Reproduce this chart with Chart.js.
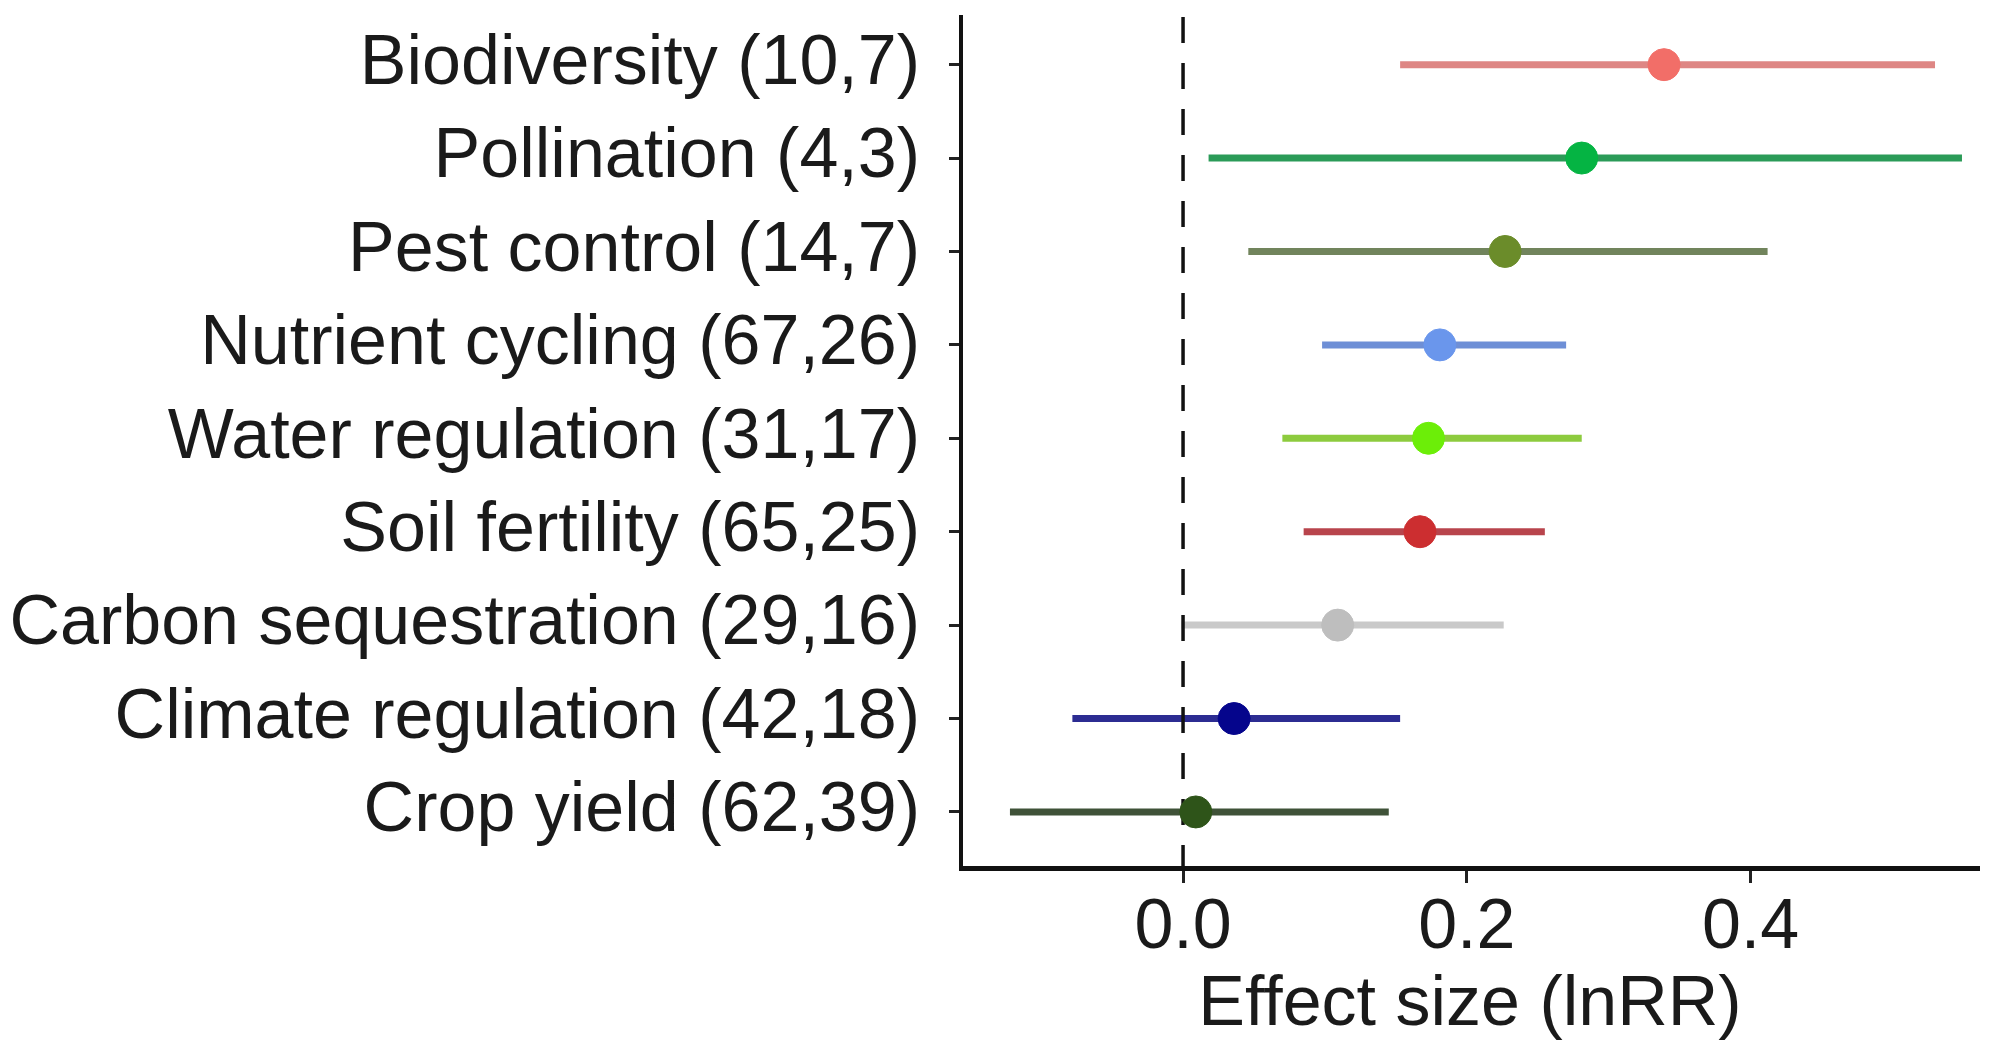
<!DOCTYPE html>
<html>
<head>
<meta charset="utf-8">
<script src="https://cdn.jsdelivr.net/npm/chart.js@4/dist/chart.umd.min.js"></script>
<style>
  html, body { margin: 0; padding: 0; background: #ffffff; overflow: hidden; }
  #wrap { width: 1996px; height: 1048px; overflow: hidden; }
  canvas { display: block; }
</style>
</head>
<body>
<div id="wrap"><canvas id="c" width="1996" height="1048" style="width:1996px;height:1048px"></canvas></div>
<script>
// ---- data ----
const categories = [
  "Biodiversity (10,7)",
  "Pollination (4,3)",
  "Pest control (14,7)",
  "Nutrient cycling (67,26)",
  "Water regulation (31,17)",
  "Soil fertility (65,25)",
  "Carbon sequestration (29,16)",
  "Climate regulation (42,18)",
  "Crop yield (62,39)"
];
const effect = [0.339, 0.281, 0.227, 0.181, 0.173, 0.167, 0.109, 0.036, 0.009];
const ciLow  = [0.153, 0.018, 0.046, 0.098, 0.070, 0.085, -0.001, -0.078, -0.122];
const ciHigh = [0.530, 0.549, 0.412, 0.270, 0.281, 0.255, 0.226, 0.153, 0.145];
const xTickValues = [0, 0.2, 0.4];
const xTickLabels = ["0.0", "0.2", "0.4"];
const xTitle = "Effect size (lnRR)";
const referenceX = 0;

// ---- styles / layout ----
const pointColors = ["#F26E68", "#05B443", "#6B8C2A", "#6A96EC", "#6CEE08", "#CC2E30", "#BEBEBE", "#05058C", "#2E5419"];
const lineColors  = ["#DE8684", "#2B9B58", "#71845C", "#6E8FD6", "#8DCB3E", "#B8444C", "#C9C9C9", "#2C2C92", "#3F5238"];
const FONT = "'Liberation Sans', Arial, Helvetica, sans-serif";
const Y_MIN = -0.51;
const Y_MAX = categories.length - 0.4;

const datasets = [];
// points
datasets.push({
  label: "effect",
  data: effect.map((v, i) => ({ x: v, y: i })),
  backgroundColor: pointColors,
  borderColor: pointColors,
  pointRadius: 16,
  pointHoverRadius: 16,
  showLine: false,
  order: 0
});
// reference dashed line
datasets.push({
  label: "zero",
  data: [{ x: referenceX, y: Y_MIN }, { x: referenceX, y: Y_MAX }],
  borderColor: "#111111",
  borderWidth: 3.5,
  borderDash: [26, 20],
  pointRadius: 0,
  showLine: true,
  order: 1
});
// confidence intervals
categories.forEach((c, i) => {
  datasets.push({
    label: c,
    data: [{ x: ciLow[i], y: i }, { x: ciHigh[i], y: i }],
    borderColor: lineColors[i],
    borderWidth: 7,
    borderCapStyle: "butt",
    pointRadius: 0,
    showLine: true,
    order: 2
  });
});

function noEdgePadding(s) {
  s._calculatePadding = function () {
    this.paddingLeft = 0; this.paddingRight = 0; this.paddingTop = 0; this.paddingBottom = 0;
  };
}

new Chart(document.getElementById("c"), {
  type: "scatter",
  data: { datasets },
  options: {
    responsive: false,
    animation: false,
    devicePixelRatio: 1,
    layout: { padding: { top: 2, right: 0, bottom: 0, left: 0 } },
    plugins: { legend: { display: false }, tooltip: { enabled: false } },
    scales: {
      x: {
        type: "linear",
        min: -0.1565,
        max: 0.561,
        beforeUpdate: noEdgePadding,
        afterBuildTicks: (s) => { s.ticks = xTickValues.map(v => ({ value: v })); },
        afterFit: (s) => { s.height = 1048 - 868; },
        ticks: {
          color: "#1a1a1a",
          font: { family: FONT, size: 70 },
          padding: 4,
          maxRotation: 0,
          callback: (v) => { const k = xTickValues.indexOf(v); return k >= 0 ? xTickLabels[k] : ""; }
        },
        grid: { drawOnChartArea: false, drawTicks: true, tickLength: 15, tickWidth: 3, tickColor: "#222222" },
        border: { display: true, color: "#111111", width: 5 },
        title: {
          display: true,
          text: xTitle,
          color: "#1a1a1a",
          font: { family: FONT, size: 70 },
          padding: { top: 0, bottom: 0 }
        }
      },
      y: {
        type: "linear",
        reverse: true,
        min: Y_MIN,
        max: Y_MAX,
        beforeUpdate: noEdgePadding,
        afterBuildTicks: (s) => { s.ticks = categories.map((c, i) => ({ value: i })); },
        afterFit: (s) => { s.width = 961; },
        ticks: {
          color: "#1a1a1a",
          font: { family: FONT, size: 70 },
          padding: 29,
          callback: (v) => categories[v] !== undefined ? categories[v] : ""
        },
        grid: { drawOnChartArea: false, drawTicks: true, tickLength: 12, tickWidth: 3, tickColor: "#222222" },
        border: { display: true, color: "#111111", width: 4 }
      }
    }
  }
});
</script>
</body>
</html>
